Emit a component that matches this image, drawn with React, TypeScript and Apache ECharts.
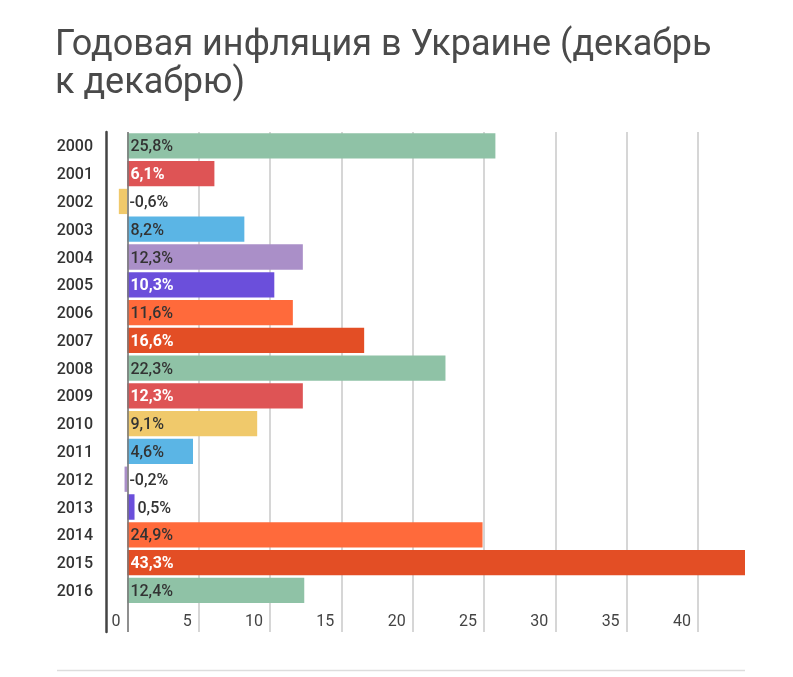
import React, { useEffect, useRef } from "react";
import * as echarts from "echarts";

const titleText = "Годовая инфляция в Украине (декабрь\nк декабрю)";
const years = ["2000", "2001", "2002", "2003", "2004", "2005", "2006", "2007", "2008", "2009", "2010", "2011", "2012", "2013", "2014", "2015", "2016"];
const values = [25.8, 6.1, -0.6, 8.2, 12.3, 10.3, 11.6, 16.6, 22.3, 12.3, 9.1, 4.6, -0.2, 0.5, 24.9, 43.3, 12.4];
const palette = ["#8fc2a6", "#de5455", "#f0c96b", "#5bb5e5", "#aa8fc8", "#6b4fdb", "#ff6a3b", "#e34e25"];
const whiteLabelColors = ["#de5455", "#6b4fdb", "#e34e25"];
const xTicks = [0, 5, 10, 15, 20, 25, 30, 35, 40];

const fmt = (v: number) => v.toFixed(1).replace(".", ",") + "%";

export default function App() {
  const ref = useRef<HTMLDivElement>(null);
  useEffect(() => {
    if (!ref.current) return;
    const chart = echarts.init(ref.current, null, { renderer: "svg" });
    const data = values.map((v, i) => {
      const color = palette[i % palette.length];
      const small = Math.abs(v) < 2;
      const white = whiteLabelColors.includes(color) && !small;
      return {
        value: v,
        itemStyle: { color },
        label: small
          ? { position: "right", distance: v < 0 ? 2 : 3, color: "#333", fontWeight: 500 }
          : { position: "insideLeft", distance: 3, color: white ? "#ffffff" : "#333333", fontWeight: white ? 700 : 500 },
      };
    });
    chart.setOption({
      animation: false,
      textStyle: { fontFamily: "Roboto" },
      title: {
        text: titleText,
        left: 55,
        top: 24,
        padding: 0,
        textStyle: { fontFamily: "Roboto", fontSize: 36, fontWeight: 400, color: "#4a4a4a", lineHeight: 38 },
      },
      grid: { left: 106, right: 48, top: 132, bottom: 45, containLabel: false },
      xAxis: {
        type: "value",
        min: -1.5,
        max: 43.3,
        position: "bottom",
        axisLine: { show: false },
        axisTick: { show: false, customValues: xTicks },
        axisLabel: {
          customValues: xTicks,
          inside: true,
          align: "right",
          padding: [0, 7, 0, 0],
          margin: 4,
          fontSize: 16,
          color: "#444",
          fontFamily: "Roboto",
        },
        splitLine: { show: true, lineStyle: { color: "#c8c8c8", width: 1.5 } },
      },
      yAxis: {
        type: "category",
        data: [...years, ""],
        inverse: true,
        axisLine: { show: true, onZero: false, lineStyle: { color: "#444", width: 2.5 } },
        axisTick: { show: false },
        axisLabel: { fontSize: 16, color: "#333", margin: 13, fontWeight: 500, fontFamily: "Roboto" },
        splitLine: { show: false },
      },
      series: [
        {
          type: "bar",
          data,
          barCategoryGap: "9%",
          label: { show: true, formatter: (p: any) => fmt(p.value), fontSize: 16, fontFamily: "Roboto" },
          markLine: {
            silent: true,
            symbol: ["none", "none"],
            label: { show: false },
            lineStyle: { color: "#777", width: 1.5, type: "solid" },
            data: [{ xAxis: 0 }],
          },
        },
      ],
      graphic: [
        {
          type: "line",
          shape: { x1: 57, y1: 670.5, x2: 745, y2: 670.5 },
          style: { stroke: "#dddddd", lineWidth: 1.5 },
        },
      ],
    });
    return () => chart.dispose();
  }, []);
  return <div ref={ref} style={{ position: "fixed", left: 0, top: 0, width: 793, height: 677 }} />;
}
